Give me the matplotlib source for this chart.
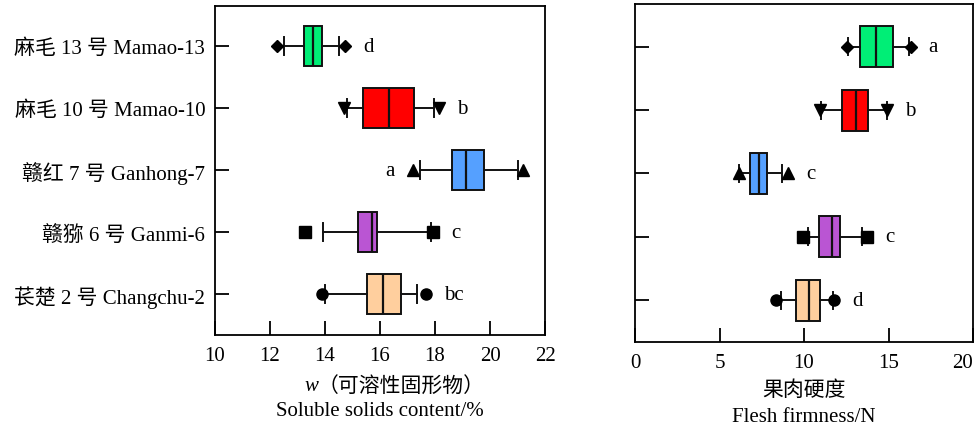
import matplotlib.pyplot as plt

plt.rcParams['font.family'] = ['Liberation Serif', 'Noto Sans CJK SC']
plt.rcParams['font.size'] = 15

# cultivars, top to bottom
cultivars = ['麻毛 13 号 Mamao-13', '麻毛 10 号 Mamao-10', '赣红 7 号 Ganhong-7',
             '赣猕 6 号 Ganmi-6', '苌楚 2 号 Changchu-2']
colors = ['#00EE76', '#FF0000', '#55A0FF', '#BA55D3', '#FFCF9E']
markers = ['D', 'v', '^', 's', 'o']

# soluble solids content (%)
ssc_q1 = [13.25, 15.37, 18.62, 15.19, 15.52]
ssc_med = [13.56, 16.32, 19.13, 15.70, 16.10]
ssc_q3 = [13.89, 17.24, 19.79, 15.88, 16.76]
ssc_lo = [12.52, 14.80, 17.45, 13.94, 13.99]
ssc_hi = [14.52, 17.97, 21.02, 17.85, 17.35]
ssc_flo = [12.25, 14.69, 17.19, 13.27, 13.89]
ssc_fhi = [14.72, 18.13, 21.21, 17.92, 17.67]
ssc_letters = ['d', 'b', 'a', 'c', 'bc']
ssc_side = ['r', 'r', 'l', 'r', 'r']

# flesh firmness (N)
ff_q1 = [13.31, 12.25, 6.82, 10.89, 9.51]
ff_med = [14.24, 13.08, 7.34, 11.66, 10.31]
ff_q3 = [15.28, 13.80, 7.79, 12.15, 10.97]
ff_lo = [12.62, 10.99, 6.17, 10.22, 8.62]
ff_hi = [16.23, 14.89, 8.70, 13.43, 11.73]
ff_flo = [12.53, 10.95, 6.14, 9.92, 8.33]
ff_fhi = [16.31, 14.93, 9.04, 13.75, 11.76]
ff_letters = ['a', 'b', 'c', 'c', 'd']
ff_side = ['r', 'r', 'r', 'r', 'r']

pos = [1, 2, 3, 4, 5]


def draw(ax, q1, med, q3, lo, hi, flo, fhi, letters, side, capw):
    stats = []
    for i in range(len(pos)):
        stats.append({'q1': q1[i], 'med': med[i], 'q3': q3[i],
                      'whislo': lo[i], 'whishi': hi[i],
                      'fliers': [flo[i], fhi[i]]})
    bp = ax.bxp(stats, positions=pos, orientation='horizontal', patch_artist=True,
                widths=0.65, capwidths=capw,
                boxprops=dict(linewidth=1.4, edgecolor='#111111'),
                medianprops=dict(color='#111111', linewidth=1.6),
                whiskerprops=dict(color='#111111', linewidth=1.4),
                capprops=dict(color='#111111', linewidth=1.4))
    for patch, c in zip(bp['boxes'], colors):
        patch.set_facecolor(c)
    for fl, m in zip(bp['fliers'], markers):
        fl.set_marker(m)
        fl.set_markerfacecolor('black')
        fl.set_markeredgecolor('black')
        fl.set_markersize(6 if m == 'D' else 8)
    for i in range(len(pos)):
        if side[i] == 'r':
            ax.annotate(letters[i], (fhi[i], pos[i]), xytext=(13, 0),
                        textcoords='offset points', ha='left', va='center')
        else:
            ax.annotate(letters[i], (flo[i], pos[i]), xytext=(-13, 0),
                        textcoords='offset points', ha='right', va='center')
    ax.tick_params(direction='in', length=10, width=1.3)
    ax.tick_params(axis='x', pad=8)
    ax.tick_params(axis='y', pad=7)
    for s in ax.spines.values():
        s.set_linewidth(1.3)
    ax.set_yticks(pos)


fig = plt.figure(figsize=(9.8, 4.31), dpi=100)

ax1 = fig.add_axes([215 / 980, 95 / 431, 330 / 980, 329 / 431])
draw(ax1, ssc_q1, ssc_med, ssc_q3, ssc_lo, ssc_hi, ssc_flo, ssc_fhi,
     ssc_letters, ssc_side, 0.29)
ax1.set_xlim(10, 22)
ax1.set_xticks([10, 12, 14, 16, 18, 20, 22])
ax1.set_ylim(5.66, 0.355)
ax1.set_yticklabels(cultivars)

ax2 = fig.add_axes([635 / 980, 88 / 431, 338 / 980, 338 / 431])
draw(ax2, ff_q1, ff_med, ff_q3, ff_lo, ff_hi, ff_flo, ff_fhi,
     ff_letters, ff_side, 0.27)
ax2.set_xlim(0, 20)
ax2.set_xticks([0, 5, 10, 15, 20])
ax2.set_ylim(5.66, 0.325)
ax2.set_yticklabels([])
ax2.get_xticklabels()[-1].set_horizontalalignment('right')

# x axis titles (two lines each)
fig.text(318 / 980, 1 - 387 / 431, 'w', style='italic', ha='right', va='center')
fig.text(318 / 980, 1 - 387 / 431, '（可溶性固形物）', ha='left', va='center')
fig.text(380 / 980, 1 - 412 / 431, 'Soluble solids content/%', ha='center', va='center')
fig.text(804 / 980, 1 - 391 / 431, '果肉硬度', ha='center', va='center')
fig.text(804 / 980, 1 - 418 / 431, 'Flesh firmness/N', ha='center', va='center')

fig.savefig('out.png', dpi=100)
